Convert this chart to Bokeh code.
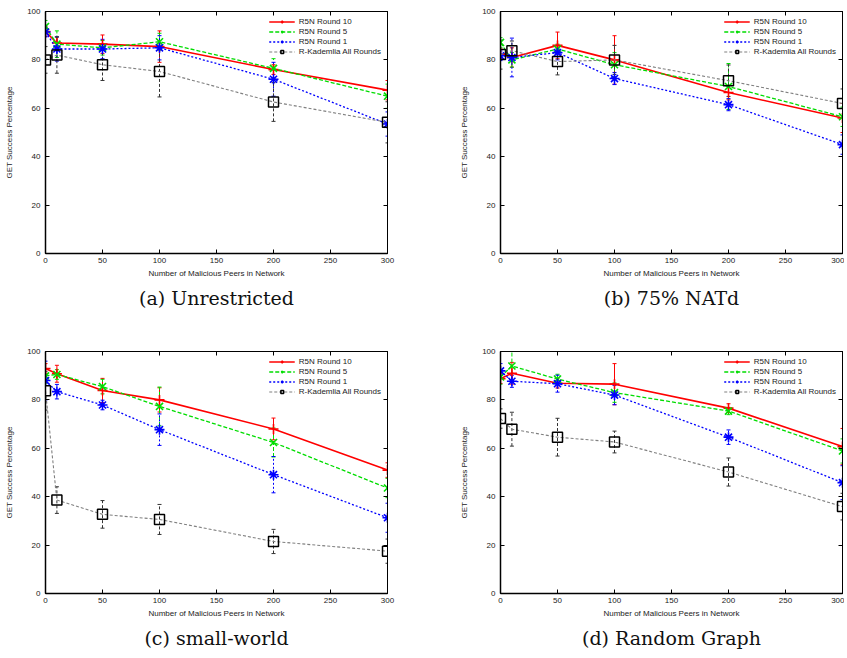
from bokeh.plotting import figure
from bokeh.layouts import column, row
from bokeh.models import (ColumnDataSource, Whisker, TeeHead, Legend, LegendItem,
                          LinearAxis, FixedTicker, Title, Range1d)
from bokeh.embed import file_html
from bokeh.resources import INLINE

# ---------------- data ----------------
X = [0, 10, 50, 100, 200, 300]
X_TICKS = [0, 50, 100, 150, 200, 250, 300]
Y_TICKS = [0, 20, 40, 60, 80, 100]
SERIES = ["R5N Round 10", "R5N Round 5", "R5N Round 1", "R-Kademlia All Rounds"]
CAPTIONS = ["(a) Unrestricted", "(b) 75% NATd", "(c) small-world", "(d) Random Graph"]
X_LABEL = "Number of Malicious Peers in Network"
Y_LABEL = "GET Success Percentage"

# (a) Unrestricted
a_r10 = [91.7, 87.0, 86.5, 85.5, 76.0, 67.5]
a_r10_err = [2.0, 2.5, 3.8, 6.5, 2.0, 4.0]
a_r5 = [93.8, 86.5, 85.0, 87.5, 76.5, 65.0]
a_r5_err = [2.5, 5.5, 3.0, 3.5, 4.0, 5.0]
a_r1 = [91.5, 84.5, 84.5, 85.0, 72.0, 53.5]
a_r1_err = [2.0, 5.0, 4.0, 5.0, 7.0, 5.0]
a_kad = [80.0, 82.0, 78.0, 75.2, 62.6, 54.2]
a_kad_err = [5.5, 7.5, 6.5, 10.5, 8.0, 8.5]

# (b) 75% NATd
b_r10 = [82.5, 81.0, 86.0, 80.0, 66.5, 56.0]
b_r10_err = [2.0, 4.0, 5.5, 10.0, 3.0, 6.0]
b_r5 = [87.2, 80.0, 84.5, 78.0, 69.0, 56.5]
b_r5_err = [2.0, 3.0, 2.0, 5.0, 9.5, 4.0]
b_r1 = [81.7, 81.0, 83.0, 72.3, 61.5, 45.0]
b_r1_err = [2.0, 8.0, 3.0, 2.5, 2.5, 4.0]
b_kad = [82.2, 83.8, 79.3, 80.0, 71.4, 62.0]
b_kad_err = [6.0, 4.0, 5.5, 6.0, 6.5, 6.0]

# (c) small-world
c_r10 = [93.0, 90.8, 83.9, 80.0, 68.0, 51.0]
c_r10_err = [2.0, 3.5, 5.0, 5.0, 4.5, 3.0]
c_r5 = [89.9, 90.5, 85.5, 77.3, 62.4, 43.6]
c_r5_err = [3.0, 2.0, 3.0, 8.0, 6.0, 4.0]
c_r1 = [88.0, 83.4, 77.9, 67.7, 49.1, 31.3]
c_r1_err = [8.0, 3.0, 2.0, 6.5, 7.5, 6.0]
c_kad = [83.8, 38.6, 32.7, 30.6, 21.5, 17.5]
c_kad_err = [8.0, 5.5, 5.7, 6.2, 5.0, 5.0]

# (d) Random Graph
d_r10 = [88.8, 91.0, 86.9, 86.5, 76.6, 60.7]
d_r10_err = [2.0, 4.5, 2.0, 8.5, 1.8, 7.5]
d_r5 = [89.5, 94.0, 88.6, 83.0, 75.4, 58.9]
d_r5_err = [3.0, 6.0, 2.0, 4.0, 1.5, 5.0]
d_r1 = [92.0, 87.7, 86.7, 82.0, 64.6, 45.8]
d_r1_err = [3.0, 2.5, 3.5, 4.0, 3.0, 7.0]
d_kad = [72.3, 67.9, 64.6, 62.6, 50.2, 35.9]
d_kad_err = [4.0, 7.0, 7.8, 4.5, 5.8, 5.5]

PANELS = [
    [(a_r10, a_r10_err), (a_r5, a_r5_err), (a_r1, a_r1_err), (a_kad, a_kad_err)],
    [(b_r10, b_r10_err), (b_r5, b_r5_err), (b_r1, b_r1_err), (b_kad, b_kad_err)],
    [(c_r10, c_r10_err), (c_r5, c_r5_err), (c_r1, c_r1_err), (c_kad, c_kad_err)],
    [(d_r10, d_r10_err), (d_r5, d_r5_err), (d_r1, d_r1_err), (d_kad, d_kad_err)],
]

# ---------------- styles ----------------
STYLES = [
    dict(color="#ff0000", ecolor="#ff0000", dash="solid", lw=1.6, marker="cross", size=10, mcolor="#ff0000", mlw=1.6),
    dict(color="#00dd00", ecolor="#00dd00", dash="4 2", lw=1.3, marker="x", size=10, mcolor="#00dd00", mlw=1.6),
    dict(color="#0000ff", ecolor="#0000ff", dash="2 2", lw=1.3, marker="asterisk", size=10, mcolor="#0000ff", mlw=1.6),
    dict(color="#808080", ecolor="#333333", dash="3 2", lw=1.1, marker="square", size=10, mcolor="#000000", mlw=1.5),
]

SANS = "Liberation Sans"
SERIF = "DejaVu Serif"

FRAME_W = 342
FRAME_H = 242


def mirror_axis(ticks):
    # gnuplot-style mirrored ticks on the top/right borders (labels not painted)
    return LinearAxis(ticker=FixedTicker(ticks=ticks),
                      major_label_text_font_size="1px", major_label_text_color=None,
                      major_label_standoff=0, major_tick_in=4, major_tick_out=0,
                      minor_tick_in=0, minor_tick_out=0, axis_line_width=1)


def make_panel(idx, right_border, bottom_border):
    p = figure(frame_width=FRAME_W, frame_height=FRAME_H,
               x_range=Range1d(0, 300), y_range=Range1d(0, 100),
               output_backend="svg", toolbar_location=None,
               min_border_left=45, min_border_right=right_border,
               min_border_top=11, min_border_bottom=bottom_border)
    p.xgrid.visible = False
    p.ygrid.visible = False
    p.outline_line_color = "black"
    p.outline_line_width = 1
    p.background_fill_color = "white"
    p.border_fill_color = "white"

    p.xaxis.ticker = FixedTicker(ticks=X_TICKS)
    p.yaxis.ticker = FixedTicker(ticks=Y_TICKS)
    p.xaxis.axis_label = X_LABEL
    p.yaxis.axis_label = Y_LABEL
    for ax in p.xaxis + p.yaxis:
        ax.major_tick_in = 4
        ax.major_tick_out = 0
        ax.minor_tick_in = 0
        ax.minor_tick_out = 0
        ax.axis_line_width = 1.5
        ax.major_tick_line_width = 1
        ax.major_label_text_font = SANS
        ax.major_label_text_font_size = "8px"
        ax.major_label_text_color = "#222222"
        ax.axis_label_text_font = SANS
        ax.axis_label_text_font_size = "8px"
        ax.axis_label_text_font_style = "normal"
        ax.axis_label_text_color = "#222222"
    p.xaxis.major_label_standoff = 4
    p.xaxis.axis_label_standoff = 3
    p.yaxis.major_label_standoff = 5
    p.yaxis.axis_label_standoff = 10

    p.add_layout(mirror_axis(X_TICKS), "above")
    p.add_layout(mirror_axis(Y_TICKS), "right")

    items = []
    for (vals, errs), name, st in zip(PANELS[idx], SERIES, STYLES):
        src = ColumnDataSource(dict(
            x=X, y=vals,
            lower=[v - e for v, e in zip(vals, errs)],
            upper=[v + e for v, e in zip(vals, errs)],
        ))
        w = Whisker(source=src, base="x", lower="lower", upper="upper",
                    line_color=st["ecolor"], line_width=1, line_dash=st["dash"],
                    upper_head=TeeHead(size=4, line_color=st["ecolor"], line_width=1),
                    lower_head=TeeHead(size=4, line_color=st["ecolor"], line_width=1))
        p.add_layout(w)
        ln = p.line("x", "y", source=src, line_color=st["color"], line_width=st["lw"],
                    line_dash=st["dash"])
        sc = p.scatter("x", "y", source=src, marker=st["marker"], size=st["size"],
                       line_color=st["mcolor"], fill_color=None, line_width=st["mlw"])
        items.append(LegendItem(label=name, renderers=[ln, sc]))

    leg = Legend(items=items, location="top_right",
                 label_text_font=SANS, label_text_font_size="8px",
                 label_text_color="#222222",
                 label_height=7, glyph_height=7, glyph_width=26,
                 spacing=1, padding=2, margin=6, label_standoff=4,
                 border_line_color=None, background_fill_alpha=0)
    p.add_layout(leg, "center")

    cap = Title(text=CAPTIONS[idx], align="center", text_font=SERIF,
                text_font_size="19px", text_font_style="normal",
                text_color="#111111", standoff=9)
    p.add_layout(cap, "below")
    return p


pa = make_panel(0, 68, 87)
pb = make_panel(1, 2, 87)
pc = make_panel(2, 68, 56)
pd = make_panel(3, 2, 56)

layout = column(row(pa, pb), row(pc, pd))

with open("out.html", "w") as f:
    f.write(file_html(layout, INLINE))
